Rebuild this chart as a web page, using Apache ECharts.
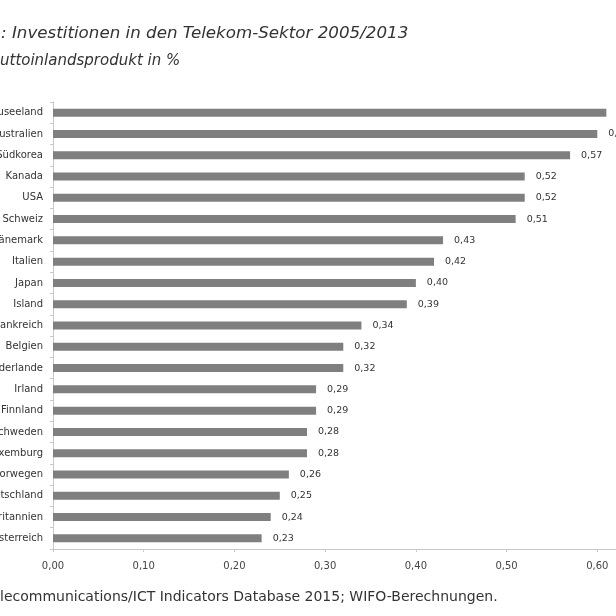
<!DOCTYPE html>
<html>
<head>
<meta charset="utf-8">
<script src="https://cdn.jsdelivr.net/npm/echarts@6/dist/echarts.min.js"></script>
<style>
  html, body { margin: 0; padding: 0; width: 616px; height: 616px; overflow: hidden; background: #fff; }
  /* chart is wider than the window and shifted left, like the cropped original */
  #chart { position: absolute; left: -60px; top: 0; width: 780px; height: 616px; }
</style>
</head>
<body>
<div id="chart"></div>
<script>
const countries = [
  'Neuseeland', 'Australien', 'Südkorea', 'Kanada', 'USA', 'Schweiz', 'Dänemark',
  'Italien', 'Japan', 'Island', 'Frankreich', 'Belgien', 'Niederlande', 'Irland',
  'Finnland', 'Schweden', 'Luxemburg', 'Norwegen', 'Deutschland', 'Großbritannien', 'Österreich'
];
const shareGdp = [
  0.61, 0.60, 0.57, 0.52, 0.52, 0.51, 0.43,
  0.42, 0.40, 0.39, 0.34, 0.32, 0.32, 0.29,
  0.29, 0.28, 0.28, 0.26, 0.25, 0.24, 0.23
];
const titleText = ': Investitionen in den Telekom-Sektor 2005/2013';
const subtitleText = 'uttoinlandsprodukt in %';
const sourceText = 'lecommunications/ICT Indicators Database 2015; WIFO-Berechnungen.';

const fmt = v => v.toFixed(2).replace('.', ',');
const font = '"DejaVu Sans", sans-serif';

const chart = echarts.init(document.getElementById('chart'));

const option = {
  animation: false,
  title: [
    {
      text: titleText,
      left: 61, top: 25, padding: 0,
      textStyle: { fontFamily: font, fontStyle: 'italic', fontWeight: 'normal', fontSize: 16.7, color: '#333' }
    },
    {
      text: subtitleText,
      left: 60, top: 54, padding: 0,
      textStyle: { fontFamily: font, fontStyle: 'italic', fontWeight: 'normal', fontSize: 15, color: '#333' }
    },
    {
      text: sourceText,
      left: 60, top: 590, padding: 0,
      textStyle: { fontFamily: font, fontWeight: 'normal', fontSize: 14, color: '#333' }
    }
  ],
  grid: { left: 113, top: 102, width: 635, height: 447, outerBoundsMode: 'none' },
  xAxis: {
    type: 'value',
    min: 0,
    max: 0.7,
    interval: 0.1,
    axisLine: { show: true, lineStyle: { color: '#c8c8c8', width: 1 } },
    axisTick: { show: true, length: 3, lineStyle: { color: '#c8c8c8' } },
    splitLine: { show: false },
    axisLabel: { formatter: fmt, margin: 12, fontFamily: font, fontSize: 10, color: '#444' }
  },
  yAxis: {
    type: 'category',
    inverse: true,
    data: countries,
    axisLine: { show: true, lineStyle: { color: '#c8c8c8', width: 1 } },
    axisTick: { show: true, length: 3, lineStyle: { color: '#c8c8c8' } },
    axisLabel: { margin: 10, fontFamily: font, fontSize: 10, color: '#333' }
  },
  series: [
    {
      type: 'bar',
      data: shareGdp,
      barWidth: 8,
      itemStyle: { color: '#7f7f7f' },
      label: {
        show: true,
        position: 'right',
        distance: 11,
        formatter: p => fmt(p.value),
        fontFamily: font,
        fontSize: 9.5,
        color: '#333'
      }
    }
  ]
};

chart.setOption(option);
</script>
</body>
</html>
